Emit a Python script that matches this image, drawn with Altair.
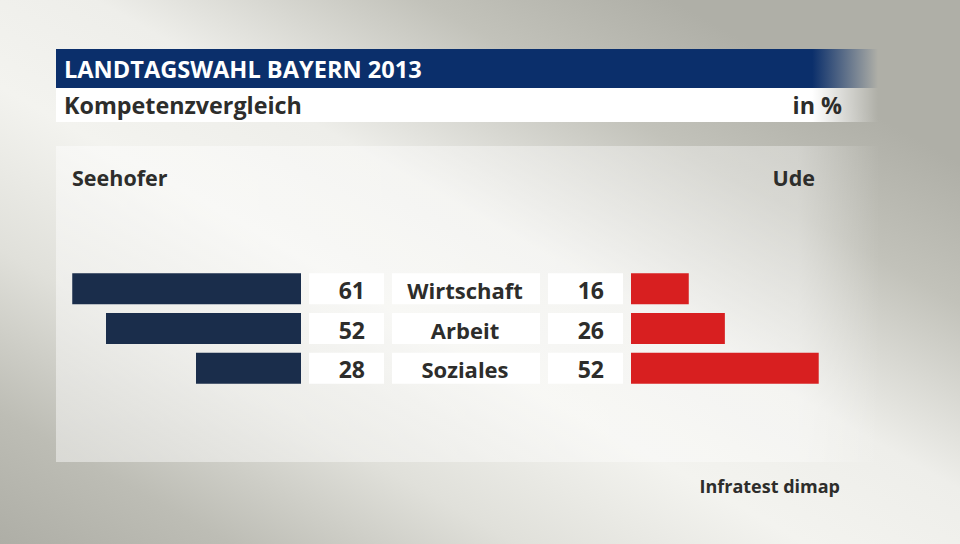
import altair as alt
import pandas as pd

categories = ["Wirtschaft", "Arbeit", "Soziales"]
seehofer = [61, 52, 28]
ude = [16, 26, 52]

title = "LANDTAGSWAHL BAYERN 2013"
subtitle = "Kompetenzvergleich"
unit = "in %"
left_head = "Seehofer"
right_head = "Ude"
source = "Infratest dimap"

FONT = "Open Sans"
NAVY = "#1a2d4b"
RED = "#d81f20"
TXT = "#2d2d2b"

df = pd.DataFrame({"cat": categories, "seehofer": seehofer, "ude": ude})
one = alt.Data(values=[{"a": 1}])

yband = alt.Y("cat:N", sort=categories, axis=None,
              scale=alt.Scale(range=[273.3, 383.7], paddingInner=0.22, paddingOuter=0))

# background
bg = alt.Chart(one).mark_rect(fill={
    "gradient": "linear", "x1": 0, "y1": 1, "x2": 1, "y2": 0,
    "stops": [
        {"offset": 0.0, "color": "#aeaea6"},
        {"offset": 0.12, "color": "#bdbdb5"},
        {"offset": 0.27, "color": "#e0e0da"},
        {"offset": 0.42, "color": "#f3f3ef"},
        {"offset": 0.55, "color": "#eeeeea"},
        {"offset": 0.72, "color": "#c2c2ba"},
        {"offset": 0.85, "color": "#afafa7"},
        {"offset": 1.0, "color": "#afafa7"},
    ]}).encode(x=alt.value(0), x2=alt.value(960), y=alt.value(0), y2=alt.value(544))

panel = alt.Chart(one).mark_rect(fill={
    "gradient": "linear", "x1": 0, "y1": 0, "x2": 1, "y2": 0,
    "stops": [
        {"offset": 0.0, "color": "rgba(255,255,255,0.45)"},
        {"offset": 0.9, "color": "rgba(255,255,255,0.35)"},
        {"offset": 1.0, "color": "rgba(255,255,255,0)"},
    ]}).encode(x=alt.value(56), x2=alt.value(880), y=alt.value(146), y2=alt.value(462))

titlebar = alt.Chart(one).mark_rect(fill={
    "gradient": "linear", "x1": 0, "y1": 0, "x2": 1, "y2": 0,
    "stops": [
        {"offset": 0.0, "color": "#0b2f6b"},
        {"offset": 0.92, "color": "#0b2f6b"},
        {"offset": 1.0, "color": "rgba(11,47,107,0)"},
    ]}).encode(x=alt.value(56), x2=alt.value(878), y=alt.value(49), y2=alt.value(88))

subbar = alt.Chart(one).mark_rect(fill={
    "gradient": "linear", "x1": 0, "y1": 0, "x2": 1, "y2": 0,
    "stops": [
        {"offset": 0.0, "color": "#ffffff"},
        {"offset": 0.92, "color": "#ffffff"},
        {"offset": 1.0, "color": "rgba(255,255,255,0)"},
    ]}).encode(x=alt.value(56), x2=alt.value(878), y=alt.value(88), y2=alt.value(122))

def txt(s, x, y, size, color=TXT, align="left", font=FONT):
    return alt.Chart(one).mark_text(
        text=s, font=font, fontSize=size, fontWeight="bold", color=color,
        align=align, baseline="alphabetic").encode(x=alt.value(x), y=alt.value(y))

t_title = txt(title, 64, 78, 23.6, "#ffffff")
t_sub = txt(subtitle, 64, 114, 23.3)
t_unit = txt(unit, 842, 114, 23.3, align="right")
t_left = txt(left_head, 72, 186, 21.5)
t_right = txt(right_head, 815, 186, 21.5, align="right")
t_src = txt(source, 840, 493, 18.0, align="right")

base = alt.Chart(df)

left_bars = base.mark_bar(color=NAVY).encode(
    x=alt.X("seehofer:Q", axis=None, scale=alt.Scale(domain=[0, 80], range=[301, 1])),
    x2=alt.value(301),
    y=yband,
)
right_bars = base.mark_bar(color=RED).encode(
    x=alt.X("ude:Q", axis=None, scale=alt.Scale(domain=[0, 80], range=[631, 919.8])),
    x2=alt.value(631),
    y=yband,
)

def box(x1, x2):
    return base.mark_bar(color="#ffffff").encode(x=alt.value(x1), x2=alt.value(x2), y=yband)

boxes = [box(309, 384), box(392, 540), box(548, 623)]

def rowtext(field, x, align, size):
    return base.mark_text(font=FONT, fontSize=size, fontWeight="bold", color=TXT, align=align,
                          baseline="alphabetic", dy=10).encode(
        x=alt.value(x), y=yband, text=field)

lnum = rowtext("seehofer:Q", 365, "right", 23)
lab = rowtext("cat:N", 465, "center", 22)
rnum = rowtext("ude:Q", 604, "right", 23)

chart = alt.layer(
    bg, panel, titlebar, subbar, t_title, t_sub, t_unit, t_left, t_right, t_src,
    *boxes, left_bars, right_bars, lnum, lab, rnum
).resolve_scale(x="independent").properties(
    width=960, height=544, autosize=alt.AutoSizeParams(type="none"), padding=0
).configure_view(stroke=None).configure(background="#e6e6e0")

chart.save("out.html", embed_options={"renderer": "svg", "actions": False})
